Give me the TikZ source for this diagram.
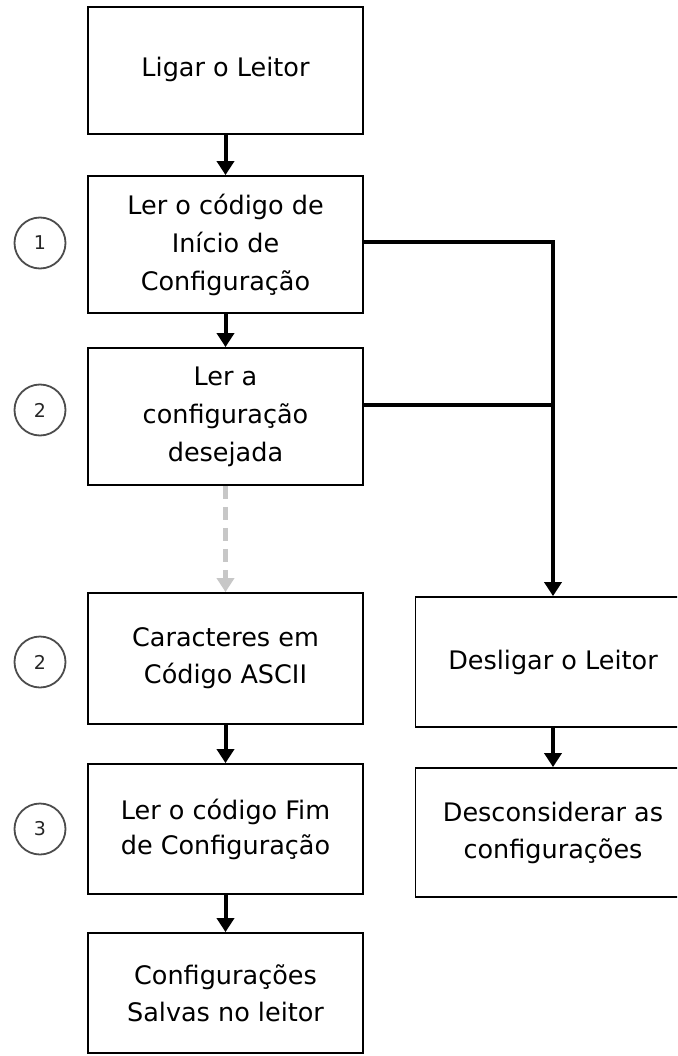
\documentclass[tikz,border=0pt]{standalone}
\usepackage{fontspec}
\setmainfont{DejaVu Sans}
\usepackage{tikz}
\usetikzlibrary{arrows.meta}

\tikzset{
	etapa/.style={draw, line width=1.8pt, minimum width=275pt, inner sep=0pt, align=center, font=\fontsize{25.5}{37}\selectfont},
	passo/.style={draw=black!70, line width=1.8pt, circle, minimum size=51pt, inner sep=0pt, font=\fontsize{19}{19}\selectfont, text=black!85},
	seta/.style={line width=4pt, -{Triangle[width=17pt,length=14pt]}},
	ramo/.style={line width=4pt},
	opcional/.style={line width=4.5pt, black!22, dash pattern=on 13pt off 8pt, -{Triangle[width=17pt,length=14pt]}}
}

\begin{document}
\begin{tikzpicture}[x=1pt, y=1pt]
	\useasboundingbox (0,0) rectangle (677,-1056);
	\clip (0,0) rectangle (677,-1056);
	\node[etapa, minimum height=127pt] (ligar) at (225.5,-70.5) {\raisebox{8pt}{Ligar o Leitor}};
	\node[etapa, minimum height=137pt, font=\fontsize{25.5}{38}\selectfont] (inicio) at (225.5,-244.5) {Ler o código de\\Início de\\Configuração};
	\node[etapa, minimum height=137pt, font=\fontsize{25.5}{38}\selectfont] (desejada) at (225.5,-416.5) {Ler a\\configuração\\desejada};
	\node[etapa, minimum height=131pt] (ascii) at (225.5,-658.5) {Caracteres em\\Código ASCII};
	\node[etapa, minimum height=130pt, font=\fontsize{25.5}{35}\selectfont] (fim) at (225.5,-829) {Ler o código Fim\\de Configuração};
	\node[etapa, minimum height=120pt] (salvas) at (225.5,-993) {Configurações\\Salvas no leitor};
	\node[etapa, minimum height=130pt] (desligar) at (553,-662) {Desligar o Leitor};
	\node[etapa, minimum height=129pt] (descons) at (553,-832.5) {Desconsiderar as\\configurações};
	\node[passo] (p1) at (40,-243) {1};
	\node[passo] (p2) at (40,-410) {2};
	\node[passo] (p2b) at (40,-662) {2};
	\node[passo] (p3) at (40,-829) {3};
	\coordinate (c1) at ([yshift=2.5pt]inicio.east);
	\coordinate (c2) at ([yshift=11.5pt]desejada.east);
	\path[seta]
	(ligar) edge (inicio)
	(inicio) edge (desejada)
	(ascii) edge (fim)
	(fim) edge (salvas)
	(desligar) edge (descons);
	\draw[seta] (c1) -| (desligar.north);
	\draw[ramo] (c2) -- (c2 -| desligar.north);
	\draw[opcional] (desejada) -- (ascii);
\end{tikzpicture}
\end{document}
